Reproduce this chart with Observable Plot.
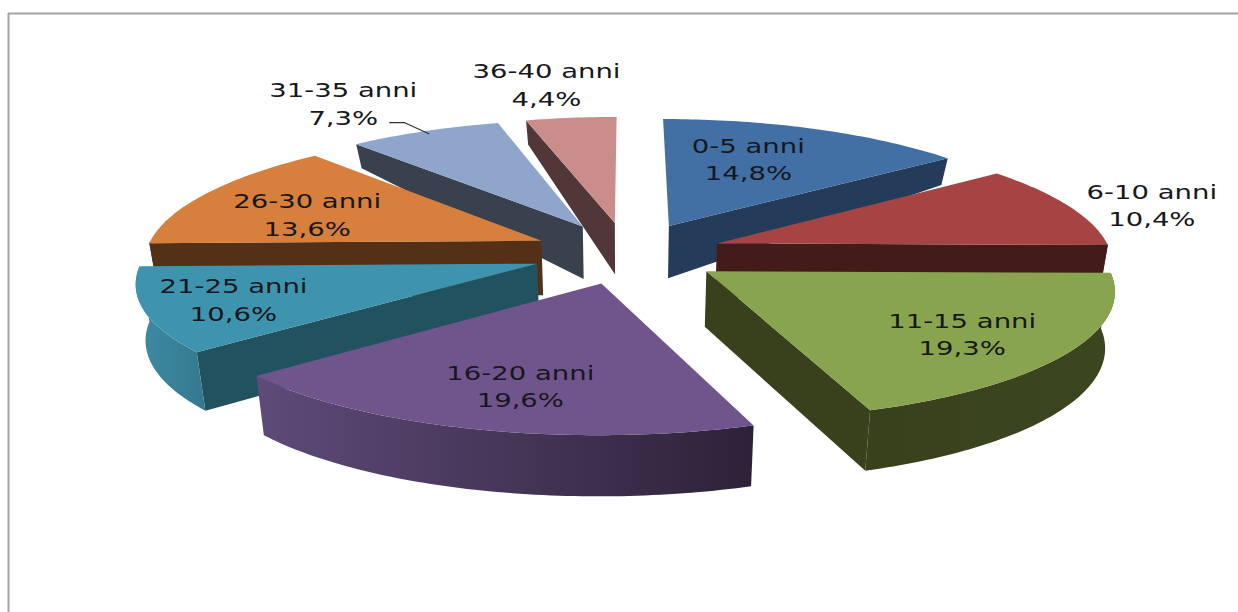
<!DOCTYPE html>
<html lang="it">
<head>
<meta charset="utf-8">
<title>Distribuzione per classi di età</title>
<script src="https://cdn.jsdelivr.net/npm/d3@7"></script>
<script src="https://cdn.jsdelivr.net/npm/@observablehq/plot@0.6"></script>
<style>
  html, body { margin: 0; padding: 0; background: #fff; overflow: hidden; }
  svg { display: block; }
</style>
</head>
<body>
<div id="chart"></div>
<script>
// Age classes and their share of the total, clockwise from twelve o'clock.
const categories = ["0-5 anni", "6-10 anni", "11-15 anni", "16-20 anni", "21-25 anni", "26-30 anni", "31-35 anni", "36-40 anni"];
const shares = [14.8, 10.4, 19.3, 19.6, 10.6, 13.6, 7.3, 4.4];

// Slice colours: top face, cut faces, outer rim.
const topColors = ["#4270a4", "#a54442", "#88a44f", "#6f558c", "#3e94ae", "#d77f3d", "#8fa5cc", "#cb8c8c"];
const cutColors = ["#253b5a", "#431b18", "#38411c", "#2e2339", "#22525f", "#543016", "#39414f", "#513737"];
const rimStops = [
  ["#253b5a", "#253b5a"], ["#431b18", "#431b18"], ["#38411c", "#3b461f"], ["#5f4a79", "#2d2238"],
  ["#3e8ca4", "#35788e"], ["#543016", "#543016"], ["#39414f", "#39414f"], ["#513737", "#513737"]
];

// Paint order, farthest slice first.
const paintOrder = [7, 6, 0, 5, 1, 4, 2, 3];

// Per-slice radius trim of the drawn disc.
const radiusTrim = [1, 0.995, 1, 1, 0.99, 1, 1, 1];

// Label placement: radius on the disc and a small shift, per slice.
const labelRadius = [0.7, 1.3, 0.7, 0.7, 0.7, 0.7, 1.25, 1.25];
const labelShift = [[-27, 2.5], [-16, 8.5], [9, 5], [4.4, 2], [-32, 2], [4, 6.5], [-49, -9], [-16, -13]];

// Camera model of the tilted, exploded disc.
const view = {cx: 627, cy: 252.4, rx: 396, ry: 129, kx: 0.136, ky: 0.12, explode: 0.24, shrink: 0.98};

const rad = (deg) => deg * Math.PI / 180;
const project = (X, Y) => [
  view.cx + view.rx * X * (1 - view.kx * Y),
  view.cy - view.ry * Y * (1 - view.ky * Y)
];
// Wall height grows quickly towards the viewer and levels off in front.
const wallHeight = (Y) => Y > 0.2 ? Math.max(24, 53 - (Y - 0.2) * 43) : 54 + (0.2 - Y) * 5;
const onTop = (X, Y) => project(X, Y);
const onBottom = (X, Y) => {
  const [sx, sy] = project(X, Y);
  return [view.cx + (sx - view.cx) * view.shrink, sy + wallHeight(Y)];
};

// Angular extent of each slice, derived from the shares.
const total = d3.sum(shares);
let running = 0;
const slices = shares.map((share, i) => {
  const a0 = running / total * 360;
  running += share;
  const a1 = running / total * 360;
  const mid = (a0 + a1) / 2;
  return {
    i, a0, a1, mid,
    ox: view.explode * Math.sin(rad(mid)),
    oy: view.explode * Math.cos(rad(mid))
  };
});

const polar = (s, deg, r = 1) => {
  const radius = r * radiusTrim[s.i];
  return [s.ox + radius * Math.sin(rad(deg)), s.oy + radius * Math.cos(rad(deg))];
};
const arc = (a0, a1) => {
  const n = Math.max(1, Math.ceil((a1 - a0) / 1));
  return d3.range(n + 1).map((k) => a0 + (a1 - a0) * k / n);
};

const shape = (points, fill) => Plot.line(points, {
  x: (d) => d[0], y: (d) => d[1], fill, stroke: "none", curve: "linear"
});

// Horizontal shading for the outer rims, from a small defs block.
const gradients = () => {
  const defs = d3.create("svg:defs");
  rimStops.forEach(([from, to], i) => {
    const g = defs.append("linearGradient").attr("id", `rim-${i}`);
    g.append("stop").attr("offset", "0%").attr("stop-color", from);
    g.append("stop").attr("offset", "100%").attr("stop-color", to);
  });
  return defs.node();
};

const sliceMarks = paintOrder.flatMap((i) => {
  const s = slices[i];
  const marks = [];
  const apex = [s.ox, s.oy];
  const edge = (deg) => polar(s, deg);
  const wall = (deg) => [onTop(...apex), onTop(...edge(deg)), onBottom(...edge(deg)), onBottom(...apex)];

  // Cut faces that turn towards the viewer.
  if (Math.sin(rad(s.a0)) < -1e-6) marks.push(shape(wall(s.a0), cutColors[i]));
  if (Math.sin(rad(s.a1)) > 1e-6) marks.push(shape(wall(s.a1), cutColors[i]));

  // Outer rim, only on the near half of the disc.
  const from = Math.max(s.a0, 90), to = Math.min(s.a1, 270);
  if (to > from) {
    const angles = arc(from, to);
    const rim = [
      ...angles.map((a) => onTop(...polar(s, a))),
      ...angles.slice().reverse().map((a) => onBottom(...polar(s, a)))
    ];
    marks.push(shape(rim, `url(#rim-${i})`));
  }

  // Top face.
  const face = [onTop(...apex), ...arc(s.a0, s.a1).map((a) => onTop(...polar(s, a)))];
  marks.push(shape(face, topColors[i]));
  return marks;
});

const labels = slices.map((s) => {
  const [px, py] = project(...polar(s, s.mid, labelRadius[s.i]));
  return {
    x: px + labelShift[s.i][0],
    y: py + labelShift[s.i][1],
    text: `${categories[s.i]}\n${shares[s.i].toFixed(1).replace(".", ",")}%`
  };
});

// Leader from the 31-35 label to the rim of its slice.
const leaderEnd = project(...polar(slices[6], slices[6].mid, 0.97));
const leader = [
  [leaderEnd[0] - 39, leaderEnd[1] - 11],
  [leaderEnd[0] - 24, leaderEnd[1] - 11],
  leaderEnd
];

const chart = Plot.plot({
  width: 1238,
  height: 612,
  margin: 0,
  x: {domain: [0, 1238], range: [0, 1238], axis: null},
  y: {domain: [0, 612], range: [0, 612], axis: null},
  style: {background: "#fff"},
  marks: [
    gradients,
    Plot.ruleY([13], {x1: 8, x2: 1238, stroke: "#a3a3a3", strokeWidth: 2}),
    Plot.ruleX([8], {y1: 13, y2: 612, stroke: "#a3a3a3", strokeWidth: 2}),
    ...sliceMarks,
    Plot.line(leader, {x: (d) => d[0], y: (d) => d[1], stroke: "#333", strokeWidth: 1.2}),
    Plot.text(labels, {
      x: "x", y: "y", text: "text",
      fontFamily: "'DejaVu Sans', sans-serif",
      fontSize: 19.5,
      lineHeight: 1.41,
      fill: "#17171c",
      textAnchor: "middle",
      className: "wide-label"
    })
  ]
});

// The labels are set in a horizontally widened cut of the face.
d3.select(chart).selectAll("g.wide-label text").attr("transform", function () {
  return `${this.getAttribute("transform") || ""} scale(1.41,1)`;
});

document.getElementById("chart").append(chart);
</script>
</body>
</html>
